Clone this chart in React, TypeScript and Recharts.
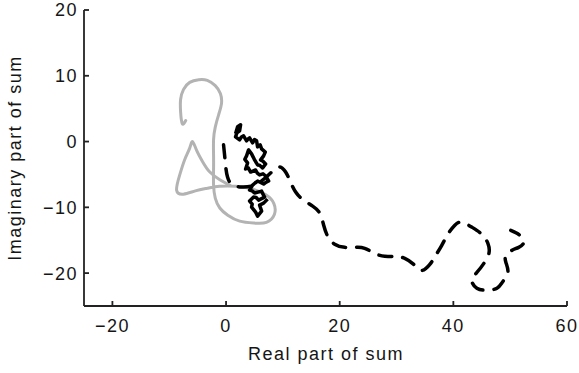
import { LineChart, Line, XAxis, YAxis, Label } from 'recharts';

// gray solid path (real, imaginary)
const grayX = [-7.1, -7.7, -8.0, -8.0, -7.5, -6.4, -4.8, -3.3, -1.9, -1.0, -0.8, -1.3, -1.9, -2.2, -2.2, -2.2, -2.2, -1.9, -1.1, 0.3, 2.4, 5.0, 7.1, 8.5, 8.4, 7.0, 4.5, 1.7, -1.1, -3.3, -5.4, -7.5, -8.7, -8.2, -7.3, -6.4, -5.9, -5.2, -4.1, -2.9, -1.1, 1.0];
const grayY = [3.2, 2.7, 4.5, 6.4, 7.9, 9.0, 9.4, 9.3, 8.5, 7.3, 5.8, 4.1, 2.2, 0.3, -2.0, -4.3, -6.6, -8.6, -10.1, -11.2, -12.1, -12.4, -12.3, -11.1, -9.4, -8.1, -7.2, -6.8, -6.8, -7.1, -7.5, -8.0, -7.4, -5.2, -2.8, -1.0, 0.0, -1.3, -3.1, -4.6, -5.8, -6.8];

// black solid jagged path
const blackX = [1.67, 2.03, 2.56, 2.38, 1.9, 1.67, 2.38, 2.7, 3.08, 3.61, 3.9, 4.14, 4.67, 5.0, 5.37, 5.55, 6.0, 6.26, 6.9, 6.61, 6.08, 6.5, 6.96, 6.43, 5.9, 5.55, 5.02, 4.8, 4.49, 3.96, 3.61, 3.3, 3.79, 3.44, 3.9, 4.32, 5.2, 5.5, 5.9, 6.5, 6.96, 7.49, 7.0, 6.61, 5.55, 5.1, 4.67, 4.14, 4.6, 5.02, 6.26, 6.5, 6.78, 5.73, 5.3, 4.85, 4.14, 4.6, 4.49, 5.2, 5.55, 6.26, 5.9, 6.61, 7.31];
const blackY = [1.18, 2.24, 2.55, 1.63, 1.3, 0.72, 0.26, 0.7, 0.87, 0.11, 0.4, 0.56, -0.2, 0.3, 0.11, -0.81, -0.5, -1.11, -1.6, -2.18, -2.79, -3.0, -3.4, -4.02, -3.6, -3.56, -2.79, -2.4, -1.88, -1.27, -2.18, -2.7, -3.25, -4.17, -4.0, -4.63, -4.32, -4.8, -5.08, -4.9, -5.24, -6.0, -6.2, -6.46, -6.0, -6.3, -6.61, -7.37, -7.5, -7.83, -7.53, -8.0, -8.44, -8.9, -8.5, -8.44, -9.05, -9.5, -9.97, -10.73, -11.34, -10.58, -9.66, -9.36, -8.75];

// black dashed path
const dashX = [-0.44, -0.26, -0.09, 0.26, 1.15, 2.73, 4.49, 6.26, 8.02, 9.43, 10.48, 11.19, 12.25, 13.66, 15.24, 16.48, 17.18, 17.89, 19.12, 20.88, 22.82, 24.4, 26.17, 27.93, 29.7, 31.45, 33.2, 34.45, 35.86, 36.9, 37.96, 39.03, 40.26, 41.5, 43.26, 45.0, 46.08, 46.26, 45.37, 44.14, 43.26, 44.14, 45.9, 47.67, 48.72, 49.6, 49.25, 49.25, 50.3, 51.5, 52.4, 51.7, 50.1];
const dashY = [-0.5, -2.03, -3.56, -5.4, -6.6, -6.9, -6.76, -6.0, -4.63, -3.86, -4.63, -5.85, -7.68, -8.9, -9.82, -10.89, -12.72, -14.4, -15.6, -16.08, -16.08, -16.23, -17.0, -17.45, -17.45, -17.76, -18.8, -19.6, -18.67, -17.3, -15.77, -14.09, -12.72, -12.26, -13.02, -14.09, -15.47, -17.0, -18.52, -19.9, -21.1, -22.3, -22.6, -22.3, -21.27, -19.9, -18.37, -17.3, -16.54, -16.08, -15.31, -14.24, -13.5];

const xTicks = [-20, 0, 20, 40, 60];
const yTicks = [-20, -10, 0, 10, 20];

const toPoints = (xs: number[], ys: number[]) => xs.map((x, i) => ({ x, y: ys[i] }));

const grayData = toPoints(grayX, grayY);
const blackData = toPoints(blackX, blackY);
const dashData = toPoints(dashX, dashY);

const FONT = '"Liberation Sans", Arial, sans-serif';
const INK = '#151515';
const tickStyle = { fontSize: 18, fill: INK, fontFamily: FONT };
const fmt = (v: number) => (v < 0 ? '\u2212' + Math.abs(v) : String(v));

function XTitle() {
  return (
    <text x={326} y={360} textAnchor="middle" fontSize={18} fill={INK} fontFamily={FONT}>
      Real part of sum
    </text>
  );
}

function YTitle() {
  return (
    <text x={0} y={0} transform="translate(21,158) rotate(-90)" textAnchor="middle" fontSize={18} fill={INK} fontFamily={FONT}>
      Imaginary part of sum
    </text>
  );
}

export default function App() {
  return (
    <div style={{ position: 'absolute', left: 0, top: 0, width: 579, height: 373, background: '#fff', letterSpacing: '1.5px' }}>
      <LineChart width={579} height={373} margin={{ top: 10, right: 12, bottom: 0, left: 0 }}>
        <XAxis
          type="number"
          dataKey="x"
          domain={[-25, 60]}
          ticks={xTicks}
          interval={0}
          height={67}
          tickSize={-5}
          tickMargin={18}
          tick={tickStyle}
          tickFormatter={fmt}
          axisLine={{ stroke: '#222', strokeWidth: 1.8 }}
          tickLine={{ stroke: '#222', strokeWidth: 1.8 }}
          allowDataOverflow
        >
          <Label content={<XTitle />} />
        </XAxis>
        <YAxis
          type="number"
          dataKey="y"
          domain={[-25, 20]}
          ticks={yTicks}
          interval={0}
          width={84}
          tickSize={-5}
          tickMargin={11}
          tick={tickStyle}
          tickFormatter={fmt}
          axisLine={{ stroke: '#222', strokeWidth: 1.8 }}
          tickLine={{ stroke: '#222', strokeWidth: 1.8 }}
          allowDataOverflow
        >
          <Label content={<YTitle />} />
        </YAxis>
        <Line
          data={grayData}
          dataKey="y"
          type="natural"
          stroke="#b3b3b3"
          strokeWidth={3}
          dot={false}
          isAnimationActive={false}
          strokeLinejoin="round"
          strokeLinecap="round"
        />
        <Line
          data={dashData}
          dataKey="y"
          type="natural"
          stroke="#000"
          strokeWidth={3.5}
          strokeDasharray="13 11"
          dot={false}
          isAnimationActive={false}
          strokeLinecap="round"
        />
        <Line
          data={blackData}
          dataKey="y"
          type="linear"
          stroke="#000"
          strokeWidth={3.5}
          dot={false}
          isAnimationActive={false}
          strokeLinejoin="round"
        />
      </LineChart>
    </div>
  );
}
